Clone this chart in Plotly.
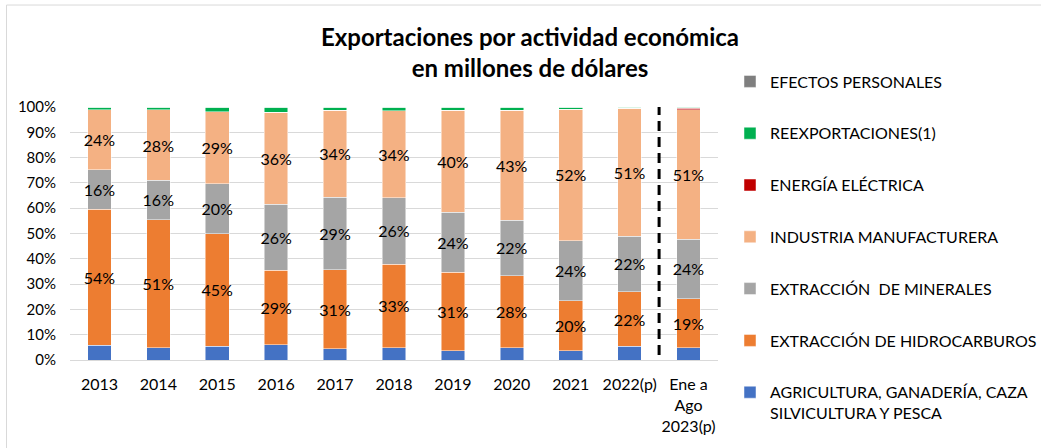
import plotly.graph_objects as go

categories = ["2013", "2014", "2015", "2016", "2017", "2018", "2019", "2020",
              "2021", "2022(p)", "Ene a<br>Ago<br>2023(p)"]

# participación (%) de cada actividad en el total exportado
agricultura = [5.9, 4.9, 5.4, 6.1, 4.4, 4.9, 3.7, 4.9, 3.7, 5.4, 4.9]
hidrocarburos = [53.6, 50.6, 44.6, 29.4, 31.3, 33.0, 30.9, 28.4, 19.8, 21.6, 19.4]
minerales = [15.7, 15.5, 19.6, 26.1, 28.6, 26.3, 23.8, 22.0, 23.7, 21.9, 23.5]
manufactura = [23.7, 27.9, 28.6, 36.4, 34.4, 34.4, 40.3, 43.4, 52.0, 50.7, 51.1]
energia = [0, 0, 0, 0, 0, 0, 0, 0, 0, 0, 0.7]
reexportaciones = [1.1, 1.1, 1.8, 2.0, 1.3, 1.4, 1.3, 1.3, 0.8, 0.4, 0.4]
efectos = [0, 0, 0, 0, 0, 0, 0, 0, 0, 0, 0]

y_ticks = [0, 10, 20, 30, 40, 50, 60, 70, 80, 90, 100]
y_tick_labels = ["0%", "10%", "20%", "30%", "40%", "50%", "60%", "70%", "80%", "90%", "100%"]

series = [
    ("AGRICULTURA, GANADERÍA, CAZA<br>SILVICULTURA Y PESCA", agricultura, "#4472C4", False),
    ("EXTRACCIÓN DE HIDROCARBUROS", hidrocarburos, "#ED7D31", True),
    ("EXTRACCIÓN  DE MINERALES", minerales, "#A5A5A5", True),
    ("INDUSTRIA MANUFACTURERA", manufactura, "#F4B183", True),
    ("ENERGÍA ELÉCTRICA", energia, "#C00000", False),
    ("REEXPORTACIONES(1)", reexportaciones, "#00B050", False),
    ("EFECTOS PERSONALES", efectos, "#7F7F7F", False),
]

font = "Lato, 'Open Sans', sans-serif"

fig = go.Figure()
for i, (name, vals, color, labels) in enumerate(series):
    fig.add_trace(go.Bar(
        x=categories, y=vals, name=name,
        marker=dict(color=color, line=dict(color="rgba(255,255,255,0.6)", width=0.8)),
        texttemplate="%{y:.0f}%" if labels else None,
        textposition="inside" if labels else "none",
        insidetextanchor="middle",
        textangle=0,
        constraintext="none",
        textfont=dict(family=font, size=16, color="#000000"),
        legendgroup=str(i),
        legendrank=len(series) - i,
    ))

# separador entre años completos y el periodo parcial
fig.add_shape(type="line", xref="x", yref="y", x0=9.5, x1=9.5, y0=2, y1=100,
              line=dict(color="black", width=3, dash="10px,6px"))

# marco del gráfico
fig.add_shape(type="rect", xref="paper", yref="paper", x0=-0.098, x1=1.6, y0=-0.5, y1=1.403,
              line=dict(color="#D9D9D9", width=1), layer="below")

fig.update_layout(
    width=1041, height=448,
    margin=dict(l=70, r=311, t=107, b=88),
    paper_bgcolor="white", plot_bgcolor="white",
    barmode="stack", bargap=0.6,
    font=dict(family=font, size=14, color="#000000"),
    title=dict(
        text="<b>Exportaciones por actividad económica<br>en millones de dólares</b>",
        x=(530 / 1041), xanchor="center", y=0.897, yanchor="top",
        font=dict(family="'Liberation Sans Narrow', 'Arial Narrow', Lato, sans-serif", size=24, color="#000000"),
    ),
    legend=dict(
        traceorder="grouped", xref="container", yref="container",
        x=730 / 1041, xanchor="left", y=1 - 64.5 / 448, yanchor="top",
        tracegroupgap=28, itemwidth=30, valign="top", maxheight=420,
        font=dict(family=font, size=16, color="#000000"),
    ),
    xaxis=dict(showgrid=False, showline=True, linecolor="#D9D9D9", linewidth=1,
               tickfont=dict(family=font, size=16), ticks="", ticklabelstandoff=10),
    yaxis=dict(range=[0, 100], tickvals=y_ticks, ticktext=y_tick_labels,
               showgrid=True, gridcolor="#D9D9D9", gridwidth=1, zeroline=False,
               tickfont=dict(family=font, size=15), ticklabelstandoff=13),
)

fig.write_html("out.html", config={"displayModeBar": False},
               post_script="document.body.style.margin='0';")
